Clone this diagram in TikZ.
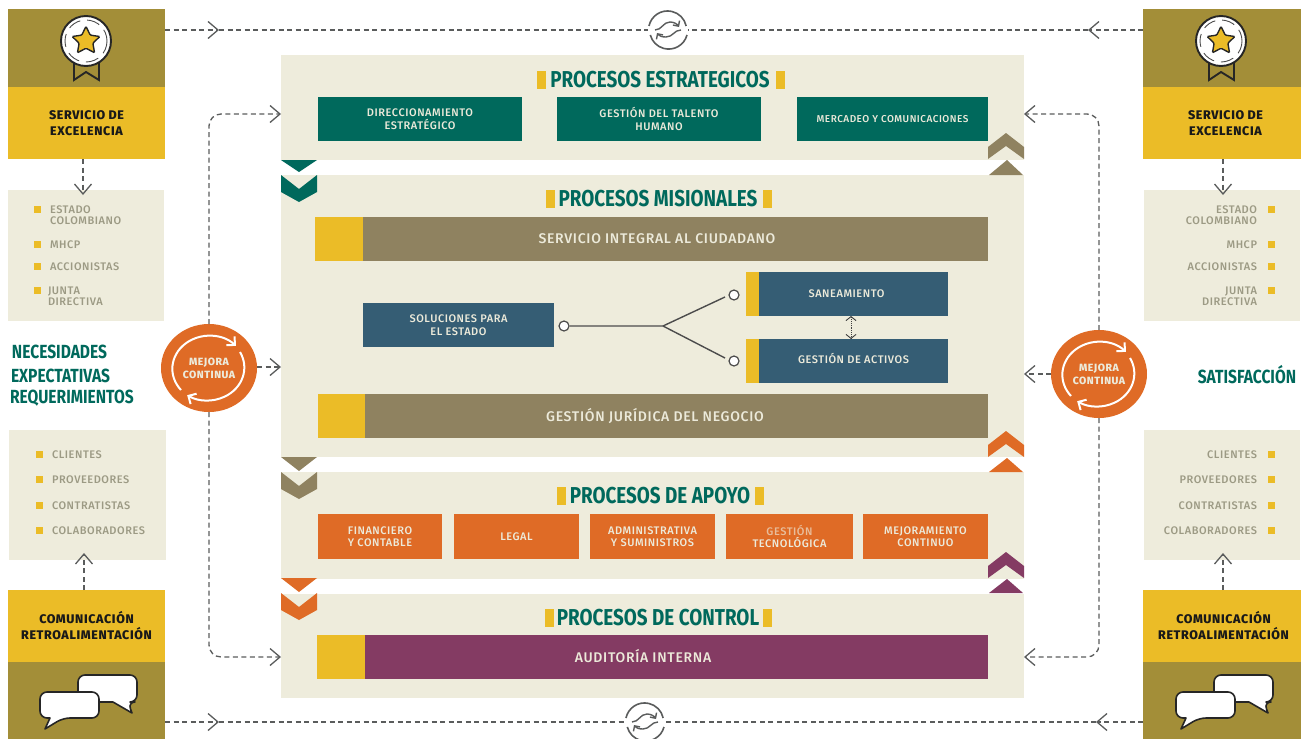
\documentclass[tikz,border=0pt]{standalone}
\usepackage{fontspec}
\usepackage{tikz}
\usetikzlibrary{arrows.meta,shapes.geometric}
\setmainfont{Fira Sans}
\newfontfamily\boxfont[LetterSpace=5]{Fira Sans Medium}
\newfontfamily\titlefont[FakeStretch=0.82]{Fira Sans}
\definecolor{panelc}{HTML}{EEECDC}
\definecolor{olivec}{HTML}{A38E38}
\definecolor{yellowc}{HTML}{EBBC27}
\definecolor{tealc}{HTML}{00695C}
\definecolor{khakic}{HTML}{8F8260}
\definecolor{bluec}{HTML}{355D74}
\definecolor{orangec}{HTML}{DF6B26}
\definecolor{purplec}{HTML}{843B63}
\definecolor{greyc}{HTML}{5A5C5C}
\definecolor{listc}{HTML}{9C9A84}
\definecolor{softc}{HTML}{ECEADA}
\newcommand{\chevdown}[3]{\fill[#1] (#2,#3) -- ++(18,14) -- ++(18,-14) -- ++(0,17) -- ++(-18,10) -- ++(-18,-10) -- cycle;}
\newcommand{\chevup}[3]{\fill[#1] (#2,#3) -- ++(18,-14) -- ++(18,14) -- ++(0,12) -- ++(-18,-13) -- ++(-18,13) -- cycle;}
\tikzset{
  medal/.pic={
    \draw[line width=1.9pt,fill=olivec,draw=black!85,line join=miter] (-12,20) -- (-12,39) -- (0,31) -- (13,39) -- (13,20);
    \draw[line width=1.9pt,fill=white,draw=black!85] (0,0) circle[radius=25];
    \draw[black!70,line width=.9pt,dash pattern=on 13pt off 7pt] (0,0) circle[radius=21];
    \node[star,star points=5,star point ratio=2,minimum size=29pt,inner sep=0pt,fill=yellowc,draw=black!85,line width=1.4pt,rounded corners=1pt] at (0,0) {};
  },
  talk/.pic={
    \draw[line width=1.6pt,fill=white,draw=black!85,line join=round,rounded corners=7pt] (78,675) -- (137,675) -- (137,702) -- (128,702) [sharp corners] -- (132,713) -- (113,702) [rounded corners=7pt] -- (78,702) -- cycle;
    \draw[line width=1.6pt,fill=white,draw=black!85,line join=round,rounded corners=7pt] (40,692) -- (99,692) -- (99,718) -- (63,718) [sharp corners] -- (45,729) -- (50,718) [rounded corners=7pt] -- (40,718) -- cycle;
  },
  loopicon/.pic={
    \draw[greyc,line width=1.6pt] (-19,-4) arc[x radius=19,y radius=19,start angle=192,end angle=348];
    \draw[greyc,line width=1.6pt] (19,5) arc[x radius=19,y radius=19,start angle=15,end angle=165];
    \draw[greyc,line width=1.4pt,-{Straight Barb[length=4pt,width=8pt]}] (-13,0) .. controls (-6,0) and (-5,-8) .. (2,-8) .. controls (6,-8) and (9,-6) .. (11,-3);
    \draw[greyc,line width=1.4pt,-{Straight Barb[length=4pt,width=8pt]}] (13,0) .. controls (6,0) and (5,7) .. (-2,7) .. controls (-6,7) and (-9,6) .. (-11,3);
  },
  turnicon/.pic={
    \draw[white,line width=2pt,-{Straight Barb[length=6pt,width=12pt]}] (-28,22) arc[x radius=37,y radius=33,start angle=140,end angle=316];
    \draw[white,line width=2pt,-{Straight Barb[length=6pt,width=12pt]}] (31,-16) arc[x radius=37,y radius=33,start angle=332,end angle=483];
  },
}
\begin{document}
\begin{tikzpicture}[x=1pt,y=-1pt,>=stealth,
  base/.style={inner sep=0pt,outer sep=0pt},
  panel/.style={base,rectangle,fill=panelc,anchor=north west},
  oliveb/.style={base,fill=olivec,minimum width=157pt,minimum height=78pt},
  yellowb/.style={base,fill=yellowc,minimum width=157pt,align=center,text=black!90,font=\boxfont\bfseries\fontsize{12.5}{16}\selectfont},
  accent/.style={base,fill=yellowc,minimum height=44pt},
  bandb/.style={base,minimum height=44pt,text=softc,font=\boxfont\fontsize{14}{16}\selectfont},
  stepb/.style={base,minimum height=44pt,align=center,text=softc,font=\boxfont\fontsize{11}{12.5}\selectfont},
  titleb/.style={base,text=tealc,font=\titlefont\bfseries\fontsize{23}{25}\selectfont},
  tick/.style={base,fill=yellowc,minimum width=9pt,minimum height=18pt},
  bullet/.style={base,fill=yellowc,minimum size=7pt},
  itemL/.style={base,anchor=west,align=left,text=listc,font=\boxfont\fontsize{11}{11}\selectfont},
  itemR/.style={base,anchor=east,align=right,text=listc,font=\boxfont\fontsize{11}{11}\selectfont},
  sidet/.style={base,anchor=west,text=tealc,font=\titlefont\bfseries\fontsize{19}{21}\selectfont},
  mejora/.style={base,ellipse,fill=orangec,minimum width=96pt,minimum height=88pt,align=center,text=softc,font=\boxfont\bfseries\fontsize{10.5}{13}\selectfont},
  pin/.style={circle,draw=black!70,fill=white,line width=1.2pt,minimum size=10pt,inner sep=0pt},
  flow/.style={greyc,line width=1.3pt,dash pattern=on 5pt off 3.5pt},
  flowa/.style={flow,-{Straight Barb[length=10pt,width=17pt,line width=1.3pt]}},
  ]
\useasboundingbox (0,0) rectangle (1302,739);

% side boxes, left
\node[oliveb] (oliveTL) at (86.5,48) {};
\node[yellowb,minimum height=72pt] (yellowTL) at (86.5,123) {SERVICIO DE\\EXCELENCIA};
\node[panel,minimum width=156pt,minimum height=131pt] (listAL) at (8,190) {};
\node[panel,minimum width=157pt,minimum height=130pt] (listBL) at (9,430) {};
\node[yellowb,minimum height=72pt] (yellowBL) at (86.5,626) {COMUNICACIÓN\\RETROALIMENTACIÓN};
\node[oliveb,minimum height=77pt] (oliveBL) at (86.5,700.5) {};
% side boxes, right
\node[oliveb,minimum width=158pt] (oliveTR) at (1222,48) {};
\node[yellowb,minimum width=158pt,minimum height=72pt] (yellowTR) at (1222,123) {\hspace*{7pt}SERVICIO DE\\\hspace*{7pt}EXCELENCIA};
\node[panel,minimum width=156pt,minimum height=131pt] (listAR) at (1144,190) {};
\node[panel,minimum width=156pt,minimum height=130pt] (listBR) at (1144,430) {};
\node[yellowb,minimum width=158pt,minimum height=72pt] (yellowBR) at (1222,626) {\hspace*{3pt}COMUNICACIÓN\\\hspace*{3pt}RETROALIMENTACIÓN};
\node[oliveb,minimum width=158pt,minimum height=77pt] (oliveBR) at (1222,700.5) {};
\pic at (86,41) {medal};
\pic at (1221,41) {medal};
\pic at (0,0) {talk};
\pic at (1136,0) {talk};

% list texts
\node[bullet] (bA1) at (37,209) {};
\node[itemL] (tA1) at (50,215) {ESTADO\\COLOMBIANO};
\node[bullet] (bA2) at (37,244) {};
\node[itemL] (tA2) at (50,245) {MHCP};
\node[bullet] (bA3) at (37,266) {};
\node[itemL] (tA3) at (50,267) {ACCIONISTAS};
\node[bullet] (bA4) at (37,290) {};
\node[itemL] (tA4) at (48,296) {JUNTA\\DIRECTIVA};
\node[bullet] (bB1) at (39,454) {};
\node[itemL] (tB1) at (52,455) {CLIENTES};
\node[bullet] (bB2) at (39,479) {};
\node[itemL] (tB2) at (52,480) {PROVEEDORES};
\node[bullet] (bB3) at (39,505) {};
\node[itemL] (tB3) at (52,505.5) {CONTRATISTAS};
\node[bullet] (bB4) at (39,530) {};
\node[itemL] (tB4) at (52,531) {COLABORADORES};
\node[bullet] (cA1) at (1271,209) {};
\node[itemR] (uA1) at (1257,215) {ESTADO\\COLOMBIANO};
\node[bullet] (cA2) at (1271,244) {};
\node[itemR] (uA2) at (1257,245) {MHCP};
\node[bullet] (cA3) at (1271,266) {};
\node[itemR] (uA3) at (1257,267) {ACCIONISTAS};
\node[bullet] (cA4) at (1271,290) {};
\node[itemR] (uA4) at (1257,296) {JUNTA\\DIRECTIVA};
\node[bullet] (cB1) at (1271,454) {};
\node[itemR] (uB1) at (1257,455) {CLIENTES};
\node[bullet] (cB2) at (1271,479) {};
\node[itemR] (uB2) at (1257,480) {PROVEEDORES};
\node[bullet] (cB3) at (1271,505) {};
\node[itemR] (uB3) at (1257,505.5) {CONTRATISTAS};
\node[bullet] (cB4) at (1271,530) {};
\node[itemR] (uB4) at (1257,531) {COLABORADORES};

\node[sidet] (necesidades) at (12,352) {NECESIDADES};
\node[sidet] (expectativas) at (11,376) {EXPECTATIVAS};
\node[sidet] (requerimientos) at (10,398.5) {REQUERIMIENTOS};
\node[sidet,anchor=center] (satisfaccion) at (1247,374.5) {SATISFACCIÓN};

% main panels
\node[panel,minimum width=743pt,minimum height=105pt] (panelA) at (281,55) {};
\node[panel,minimum width=743pt,minimum height=282pt] (panelB) at (281,175) {};
\node[panel,minimum width=743pt,minimum height=107pt] (panelC) at (281,472) {};
\node[panel,minimum width=743pt,minimum height=104pt] (panelD) at (281,594) {};

% estrategicos
\node[titleb] (titleA) at (660,80) {PROCESOS ESTRATEGICOS};
\node[tick] (tickA1) at (541.5,79.5) {};
\node[tick] (tickA2) at (780,79.5) {};
\node[stepb,fill=tealc,minimum width=204pt] (direccion) at (420,119) {DIRECCIONAMIENTO\\ESTRATÉGICO};
\node[stepb,fill=tealc,minimum width=204pt] (talento) at (659,119) {GESTIÓN DEL TALENTO\\HUMANO};
\node[stepb,fill=tealc,minimum width=191pt,font=\boxfont\fontsize{10}{12.5}\selectfont] (mercadeo) at (892.5,119) {MERCADEO Y COMUNICACIONES};

% misionales
\node[titleb] (titleB) at (658,199) {PROCESOS MISIONALES};
\node[tick] (tickB1) at (550,199) {};
\node[tick] (tickB2) at (767.5,199) {};
\node[accent,minimum width=48pt] (accentB) at (339,239) {};
\node[bandb,fill=khakic,minimum width=625pt] (servicio) at (675.5,239) {};
\node[base,text=softc,font=\boxfont\fontsize{14}{16}\selectfont] (servicioT) at (657,239) {SERVICIO INTEGRAL AL CIUDADANO};
\node[stepb,fill=bluec,minimum width=191pt] (soluciones) at (458.5,325) {SOLUCIONES PARA\\EL ESTADO};
\node[accent,minimum width=13pt] (accentS) at (752.5,294) {};
\node[stepb,fill=bluec,minimum width=189pt] (saneamiento) at (853.5,294) {\hspace*{-14pt}SANEAMIENTO};
\node[accent,minimum width=13pt] (accentG) at (752.5,361) {};
\node[stepb,fill=bluec,minimum width=189pt,text height=6pt] (activos) at (853.5,361) {GESTIÓN DE ACTIVOS};
\node[pin] (pinS) at (564,326) {};
\node[pin] (pinA) at (734,295) {};
\node[pin] (pinB) at (734,361) {};
\coordinate (fork) at (663,326);
\coordinate (forkA) at (725,297);
\coordinate (forkB) at (725,358);
\draw[black!70,line width=1.4pt] (pinS) -- (fork) -- (forkA);
\draw[black!70,line width=1.4pt] (fork) -- (forkB);
\draw[black!75,line width=.9pt,densely dotted,{Straight Barb[length=4pt,width=10pt]}-{Straight Barb[length=4pt,width=10pt]}] (saneamiento.south -| 851,0) -- (activos.north -| 851,0);
\node[accent,minimum width=47pt] (accentJ) at (341.5,416) {};
\node[bandb,fill=khakic,minimum width=623pt] (juridica) at (676.5,416) {};
\node[base,text=softc,font=\boxfont\fontsize{14}{16}\selectfont] (juridicaT) at (655,416) {GESTIÓN JURÍDICA DEL NEGOCIO};

% apoyo
\node[titleb] (titleC) at (660,496) {PROCESOS DE APOYO};
\node[tick] (tickC1) at (561.5,495.5) {};
\node[tick] (tickC2) at (759.5,495.5) {};
\node[stepb,fill=orangec,minimum width=124pt,minimum height=45pt] (financiero) at (380,536.5) {FINANCIERO\\Y CONTABLE};
\node[stepb,fill=orangec,minimum width=125pt,minimum height=45pt] (legal) at (516.5,536.5) {LEGAL};
\node[stepb,fill=orangec,minimum width=125pt,minimum height=45pt] (administrativa) at (652.5,536.5) {ADMINISTRATIVA\\Y SUMINISTROS};
\node[stepb,fill=orangec,minimum width=127pt,minimum height=45pt] (tecnologica) at (789.5,536.5) {\textcolor{softc!65!orangec}{GESTIÓN}\\TECNOLÓGICA};
\node[stepb,fill=orangec,minimum width=125pt,minimum height=45pt] (mejoramiento) at (925.5,536.5) {MEJORAMIENTO\\CONTINUO};

% control
\node[titleb] (titleD) at (658,618) {PROCESOS DE CONTROL};
\node[tick] (tickD1) at (549.5,618) {};
\node[tick] (tickD2) at (767.5,618) {};
\node[accent,minimum width=48pt] (accentD) at (341,657) {};
\node[bandb,fill=purplec,minimum width=623pt] (auditoria) at (676.5,657) {};
\node[base,text=softc,font=\boxfont\fontsize{14}{16}\selectfont] (auditoriaT) at (643,656.5) {AUDITORÍA INTERNA};

% chevrons
\fill[tealc] (281,160) -- (317,160) -- (299,172) -- cycle;
\chevdown{tealc}{281}{175}
\fill[khakic] (281,457) -- (317,457) -- (299,471) -- cycle;
\chevdown{khakic}{281}{472}
\fill[orangec] (281,578) -- (317,578) -- (299,592) -- cycle;
\chevdown{orangec}{281}{593}
\chevup{khakic}{988}{147}
\fill[khakic] (1007,160) -- (1023,175) -- (989,175) -- cycle;
\chevup{orangec}{988}{445}
\fill[orangec] (1007,458) -- (1023,472) -- (989,472) -- cycle;
\chevup{purplec}{988}{566}
\fill[purplec] (1007,579) -- (1023,593) -- (989,593) -- cycle;

% mejora continua
\node[mejora] (mejoraL) at (209,368) {MEJORA\\CONTINUA};
\node[mejora] (mejoraR) at (1099,374) {MEJORA\\CONTINUA};
\pic at (209,368) {turnicon};
\pic at (1099,374) {turnicon};

% dashed links
\coordinate (inAL) at (281,114);
\coordinate (inBL) at (281,367);
\coordinate (inDL) at (281,657);
\coordinate (inAR) at (1024,114);
\coordinate (inBR) at (1024,374);
\coordinate (inDR) at (1024,657);
\coordinate (listAin) at (83,195);
\coordinate (listBin) at (84,553);
\coordinate (listCin) at (1223,195);
\coordinate (listDin) at (1223,553);
\draw[flowa,rounded corners=12pt] (mejoraL.north) |- (inAL);
\draw[flowa,rounded corners=12pt] (mejoraL.south) |- (inDL);
\draw[flowa] (mejoraL.east |- inBL) -- (inBL);
\draw[flowa,rounded corners=12pt] (mejoraR.north) |- (inAR);
\draw[flowa,rounded corners=12pt] (mejoraR.south) |- (inDR);
\draw[flowa] (mejoraR.west) -- (inBR);
\draw[flowa] (yellowTL.south -| listAin) -- (listAin);
\draw[flowa] (yellowBL.north -| listBin) -- (listBin);
\draw[flowa] (yellowTR.south -| listCin) -- (listCin);
\draw[flowa] (yellowBR.north -| listDin) -- (listDin);

\node[base,circle,minimum size=40pt] (loopT) at (668,30) {};
\node[base,circle,minimum size=40pt] (loopB) at (645,722) {};
\pic at (668,30) {loopicon};
\pic at (645,722) {loopicon};
\coordinate (tipTL) at (219,30);
\coordinate (tipTR) at (1088,30);
\coordinate (tipBL) at (219,722);
\coordinate (tipBR) at (1096,722);
\draw[flowa] (oliveTL.east |- tipTL) -- (tipTL);
\draw[flow] (tipTL) -- (loopT.west);
\draw[flowa] (oliveTR.west |- tipTR) -- (tipTR);
\draw[flow] (tipTR) -- (loopT.east);
\draw[flowa] (oliveBL.east |- tipBL) -- (tipBL);
\draw[flow] (tipBL) -- (loopB.west);
\draw[flowa] (oliveBR.west |- tipBR) -- (tipBR);
\draw[flow] (tipBR) -- (loopB.east);
\end{tikzpicture}
\end{document}
